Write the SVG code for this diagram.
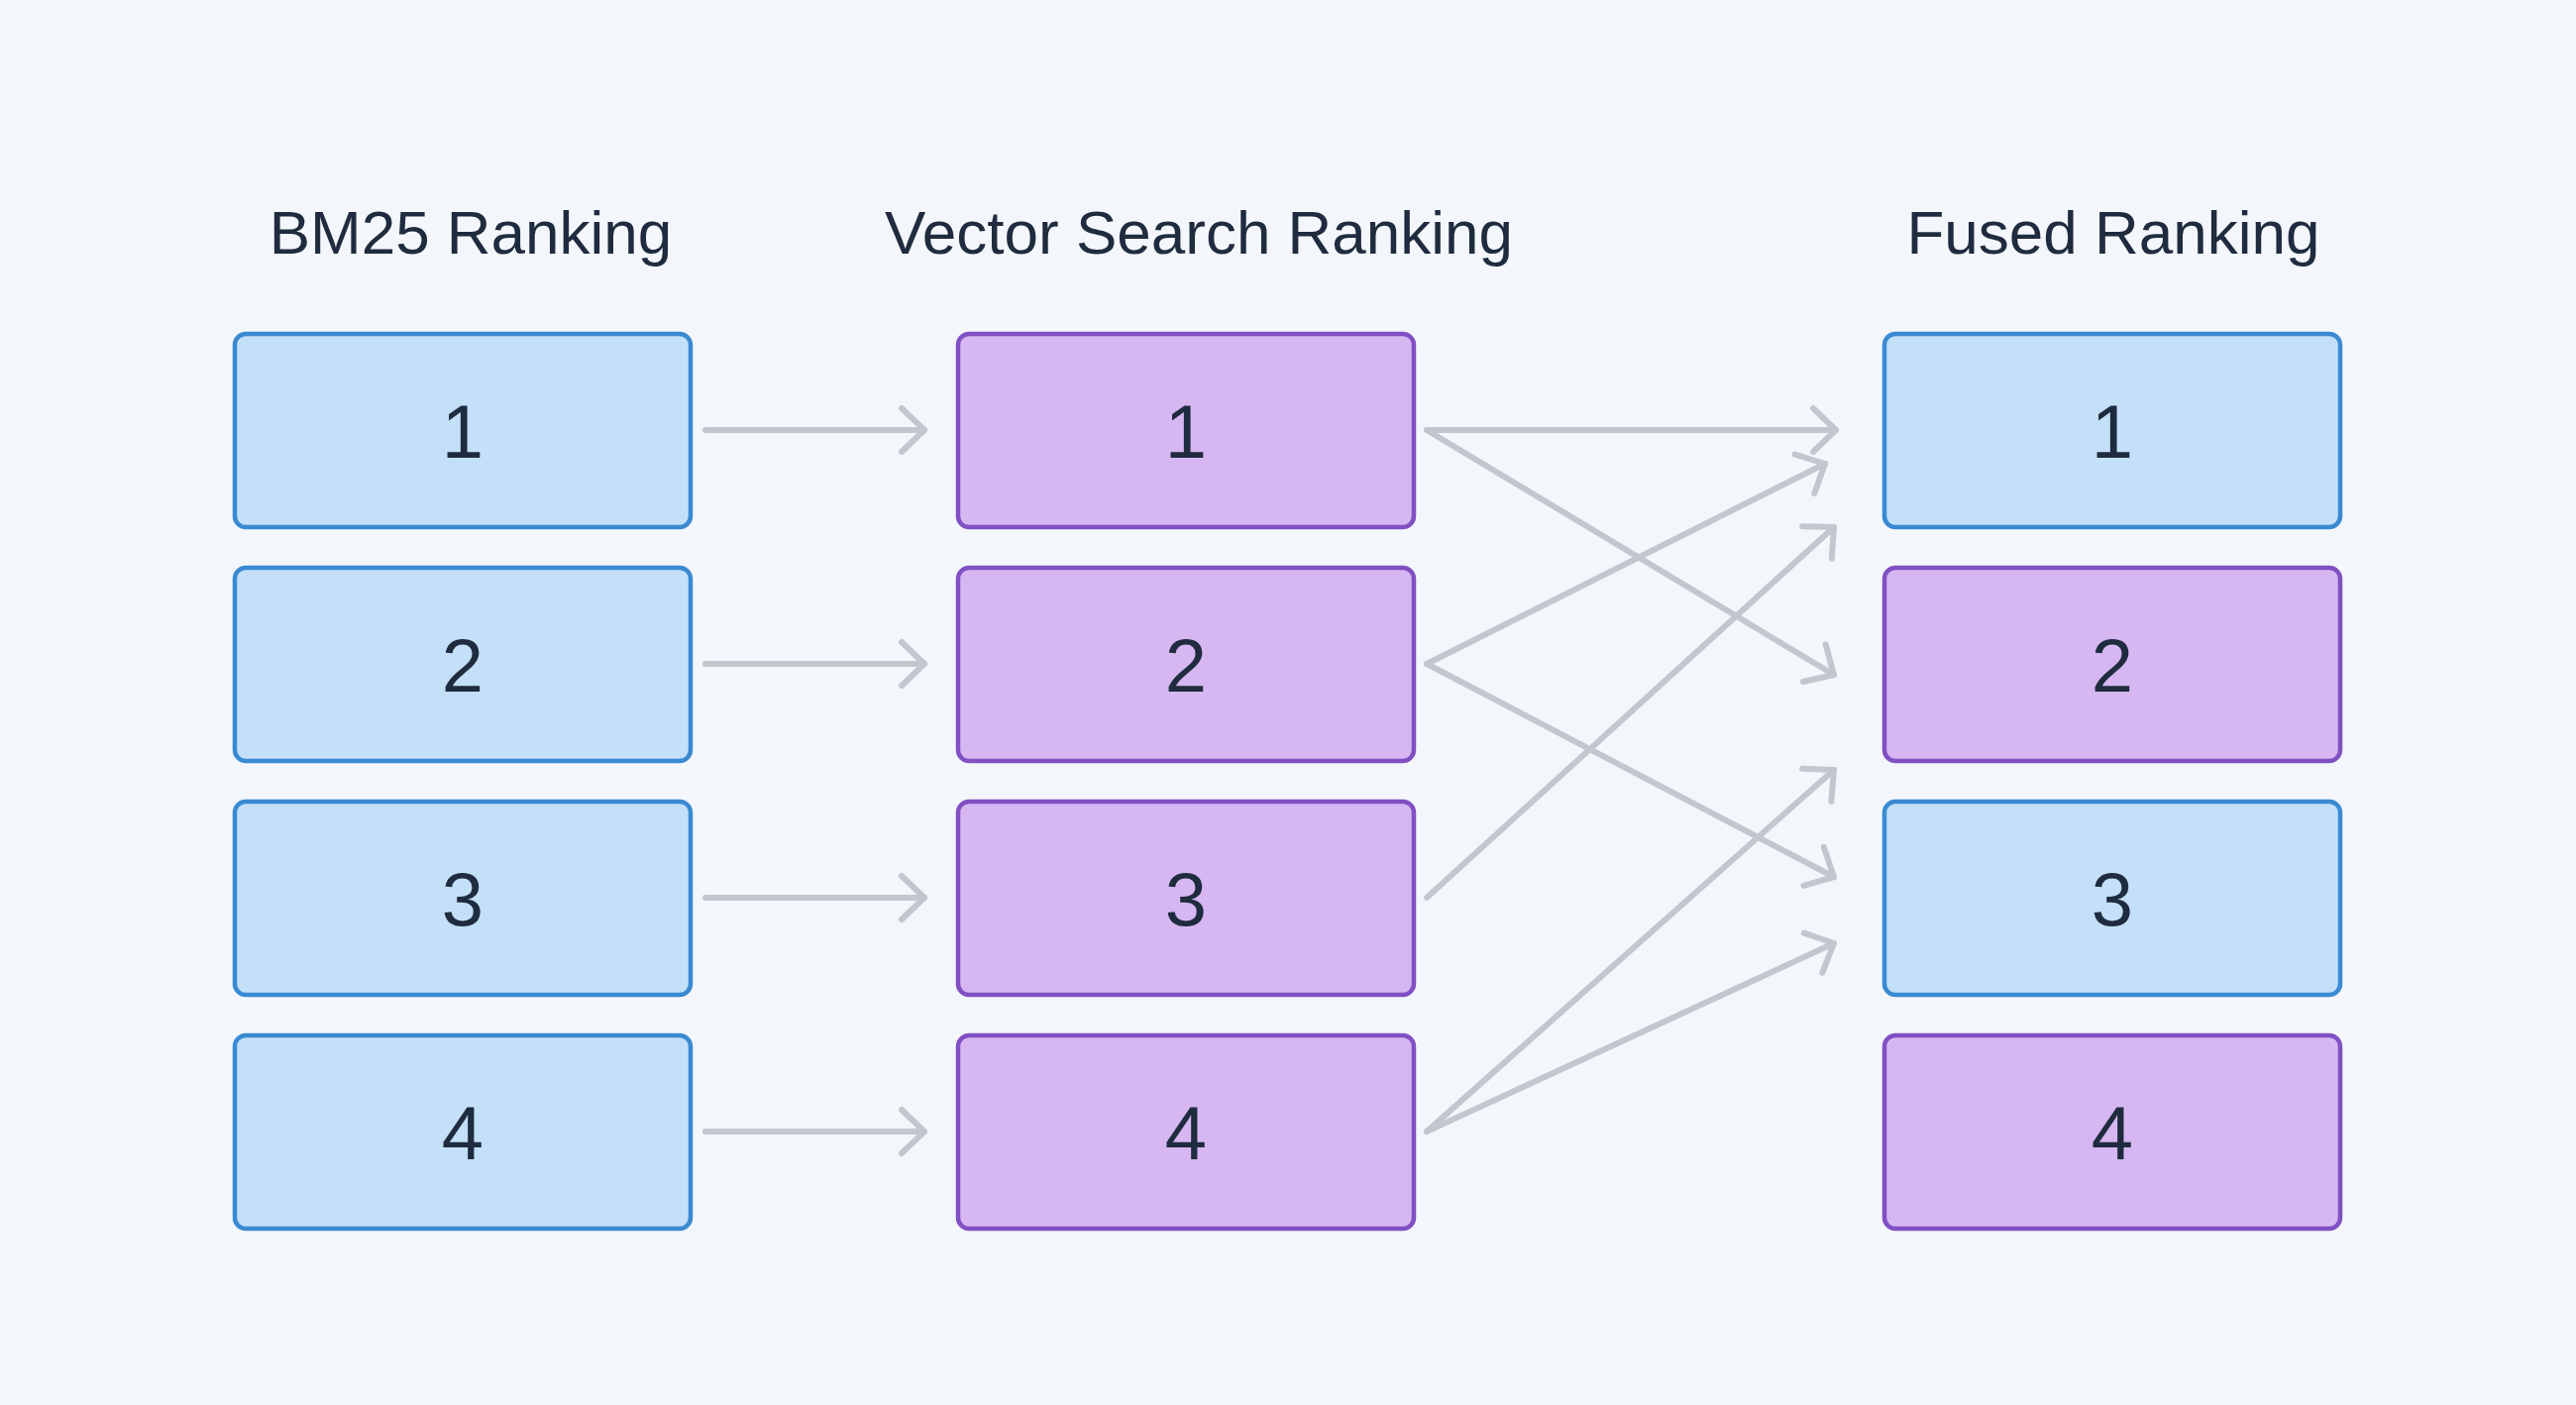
<svg xmlns="http://www.w3.org/2000/svg" width="2600" height="1418" viewBox="0 0 2600 1418">
<defs>
<style>
.title{font-family:"Liberation Sans",Arial,sans-serif;font-size:62px;fill:#1f2b3e;text-anchor:middle}
.num{font-family:"Liberation Sans",Arial,sans-serif;font-size:76px;fill:#1f2b3e;text-anchor:middle}
.blue rect{fill:#c3e0f8;stroke:#3a8ad2;stroke-width:4.5}
.purple rect{fill:#d6b7f1;stroke:#8150c3;stroke-width:4.5}
.conn line{stroke:#c2c7cf;stroke-width:6;stroke-linecap:round;fill:none}
</style>
<marker id="ah" markerUnits="userSpaceOnUse" markerWidth="60" markerHeight="60" viewBox="-30 -30 60 60" refX="0" refY="0" orient="auto">
<path d="M-23,-22 L0,0 L-23,22" fill="none" stroke="#c2c7cf" stroke-width="6" stroke-linecap="round" stroke-linejoin="round"/>
</marker>
</defs>
<rect x="0" y="0" width="2600" height="1418" fill="#f3f6fa"/>

<g id="titles">
<text class="title" x="475" y="256">BM25 Ranking</text>
<text class="title" x="1210" y="256">Vector Search Ranking</text>
<text class="title" x="2133" y="256">Fused Ranking</text>
</g>

<g id="bm25-1" class="blue"><rect x="237" y="337" width="460" height="195" rx="11"/><text class="num" x="467" y="462">1</text></g>
<g id="bm25-2" class="blue"><rect x="237" y="573" width="460" height="195" rx="11"/><text class="num" x="467" y="698">2</text></g>
<g id="bm25-3" class="blue"><rect x="237" y="809" width="460" height="195" rx="11"/><text class="num" x="467" y="934">3</text></g>
<g id="bm25-4" class="blue"><rect x="237" y="1045" width="460" height="195" rx="11"/><text class="num" x="467" y="1170">4</text></g>

<g id="vec-1" class="purple"><rect x="967" y="337" width="460" height="195" rx="11"/><text class="num" x="1197" y="462">1</text></g>
<g id="vec-2" class="purple"><rect x="967" y="573" width="460" height="195" rx="11"/><text class="num" x="1197" y="698">2</text></g>
<g id="vec-3" class="purple"><rect x="967" y="809" width="460" height="195" rx="11"/><text class="num" x="1197" y="934">3</text></g>
<g id="vec-4" class="purple"><rect x="967" y="1045" width="460" height="195" rx="11"/><text class="num" x="1197" y="1170">4</text></g>

<g id="fused-1" class="blue"><rect x="1902" y="337" width="460" height="195" rx="11"/><text class="num" x="2132" y="462">1</text></g>
<g id="fused-2" class="purple"><rect x="1902" y="573" width="460" height="195" rx="11"/><text class="num" x="2132" y="698">2</text></g>
<g id="fused-3" class="blue"><rect x="1902" y="809" width="460" height="195" rx="11"/><text class="num" x="2132" y="934">3</text></g>
<g id="fused-4" class="purple"><rect x="1902" y="1045" width="460" height="195" rx="11"/><text class="num" x="2132" y="1170">4</text></g>

<g id="connectors" class="conn">
<line x1="712" y1="434" x2="933" y2="434" marker-end="url(#ah)"/>
<line x1="712" y1="670" x2="933" y2="670" marker-end="url(#ah)"/>
<line x1="712" y1="906" x2="933" y2="906" marker-end="url(#ah)"/>
<line x1="712" y1="1142" x2="933" y2="1142" marker-end="url(#ah)"/>
<line x1="1440" y1="434" x2="1853" y2="434" marker-end="url(#ah)"/>
<line x1="1440" y1="434" x2="1851" y2="681" marker-end="url(#ah)"/>
<line x1="1440" y1="670" x2="1842" y2="468" marker-end="url(#ah)"/>
<line x1="1440" y1="670" x2="1851" y2="885" marker-end="url(#ah)"/>
<line x1="1440" y1="906" x2="1851" y2="532" marker-end="url(#ah)"/>
<line x1="1440" y1="1142" x2="1851" y2="777" marker-end="url(#ah)"/>
<line x1="1440" y1="1142" x2="1851" y2="952" marker-end="url(#ah)"/>
</g>
</svg>
